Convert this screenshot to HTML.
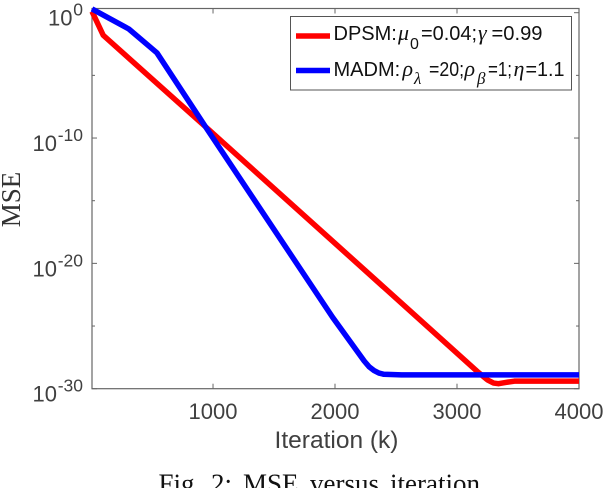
<!DOCTYPE html>
<html>
<head>
<meta charset="utf-8">
<title>MSE versus iteration</title>
<style>
html,body{margin:0;padding:0;background:#fff;}
body{width:604px;height:488px;overflow:hidden;}
svg{display:block;}
text{font-family:"Liberation Sans",sans-serif;}
.serif{font-family:"Liberation Serif",serif;}
.tick{fill:#404040;font-size:22px;}
.exp{fill:#404040;font-size:17.5px;}
.leg{fill:#111;font-size:20px;}
.legi{fill:#111;font-size:22px;font-family:"Liberation Serif",serif;font-style:italic;}
.legs{fill:#111;font-size:16px;}
.legsi{fill:#111;font-size:17px;font-family:"Liberation Serif",serif;font-style:italic;}
.cap{fill:#111;font-size:27px;font-family:"Liberation Serif",serif;}
</style>
</head>
<body>
<svg id="chart" xmlns="http://www.w3.org/2000/svg" width="604" height="488" viewBox="0 0 604 488">
  <rect x="0" y="0" width="604" height="488" fill="#fff"/>
  <g id="axes"></g>
  <g id="series"></g>
  <g>
    <rect x="290.5" y="16.5" width="281" height="73.5" fill="#fff" stroke="#555" stroke-width="1"/>
    <line x1="296" y1="36" x2="330" y2="36" stroke="#ff0000" stroke-width="5.5"/>
    <line x1="296" y1="70.5" x2="330" y2="70.5" stroke="#0000ff" stroke-width="5.5"/>
    <g>
      <text class="leg" x="333.5" y="40">DPSM:</text>
      <text class="legi" x="398" y="40">μ</text>
      <text class="legs" x="410" y="49">0</text>
      <text class="leg" x="421" y="40" textLength="56" lengthAdjust="spacingAndGlyphs">=0.04;</text>
      <text class="legi" x="478" y="40">γ</text>
      <text class="leg" x="491.5" y="40" textLength="51" lengthAdjust="spacingAndGlyphs">=0.99</text>
    </g>
    <g>
      <text class="leg" x="333.5" y="76">MADM:</text>
      <text class="legi" x="402.5" y="76">ρ</text>
      <text class="legsi" x="414" y="84">λ</text>
      <text class="leg" x="429" y="76" textLength="35" lengthAdjust="spacingAndGlyphs">=20;</text>
      <text class="legi" x="464.5" y="76">ρ</text>
      <text class="legsi" x="477" y="84">β</text>
      <text class="leg" x="488" y="76" textLength="24" lengthAdjust="spacingAndGlyphs">=1;</text>
      <text class="legi" x="513.5" y="76">η</text>
      <text class="leg" x="525.5" y="76" textLength="39" lengthAdjust="spacingAndGlyphs">=1.1</text>
    </g>
  </g>
  <text x="336.5" y="448" text-anchor="middle" font-size="24.5" fill="#404040">Iteration (k)</text>
  <text class="serif" transform="translate(20,199.5) rotate(-90)" text-anchor="middle" font-size="27" fill="#333">MSE</text>
  <g>
    <text class="cap" x="158.5" y="492.5">Fig.</text>
    <text class="cap" x="211" y="492.5">2:</text>
    <text class="cap" x="243" y="492.5">MSE</text>
    <text class="cap" x="310" y="492.5">versus</text>
    <text class="cap" x="390" y="492.5">iteration</text>
  </g>
</svg>
<script>
const xTickValues = [1000, 2000, 3000, 4000];
const yMajorExponents = [0, -10, -20, -30];
const yMinorExponents = [-5, -15, -25];
const dpsmIterations = [1, 100, 950, 2000, 3175, 3250, 3300, 3340, 3400, 3470, 4000];
const dpsmExponents = [0.1, -1.8, -9.2, -18.4, -28.7, -29.3, -29.55, -29.6, -29.5, -29.4, -29.4];
const madmIterations = [1, 310, 540, 945, 1980, 2240, 2280, 2320, 2360, 2400, 2545, 4000];
const madmExponents = [0.3, -1.3, -3.2, -9.2, -24.3, -27.8, -28.25, -28.55, -28.75, -28.85, -28.9, -28.9];

const NS = 'http://www.w3.org/2000/svg';
const plot = { left: 92, right: 579, top: 8.5, bottom: 388.7 };
const xDomain = [8, 4000];
const yDomain = [0.335, -30];

function xScale(k) {
  return plot.left + (k - xDomain[0]) / (xDomain[1] - xDomain[0]) * (plot.right - plot.left);
}
function yScale(e) {
  return plot.top + (e - yDomain[0]) / (yDomain[1] - yDomain[0]) * (plot.bottom - plot.top);
}
function make(tag, attrs, parent) {
  const el = document.createElementNS(NS, tag);
  Object.keys(attrs).forEach(function (k) { el.setAttribute(k, attrs[k]); });
  parent.appendChild(el);
  return el;
}

const axes = document.getElementById('axes');
const seriesGroup = document.getElementById('series');
const axisColor = '#666';

const frame = make('rect', { x: plot.left, y: plot.top, width: plot.right - plot.left, height: plot.bottom - plot.top, fill: 'none', stroke: axisColor, 'stroke-width': 1.2 }, axes);



xTickValues.forEach(function (v) {
  const x = xScale(v);
  const bottomTick = make('line', { x1: x, x2: x, y1: plot.bottom, y2: plot.bottom - 5, stroke: axisColor, 'stroke-width': 1 }, axes);
  
  
  const topTick = make('line', { x1: x, x2: x, y1: plot.top, y2: plot.top + 5, stroke: axisColor, 'stroke-width': 1 }, axes);
  
  
  const label = make('text', { x: x, y: 419, 'text-anchor': 'middle', class: 'tick' }, axes);
  
  
  label.textContent = String(v);
});

yMajorExponents.forEach(function (e) {
  const y = yScale(e);
  const leftTick = make('line', { x1: plot.left, x2: plot.left + 5, y1: y, y2: y, stroke: axisColor, 'stroke-width': 1 }, axes);
  
  
  const rightTick = make('line', { x1: plot.right, x2: plot.right - 5, y1: y, y2: y, stroke: axisColor, 'stroke-width': 1 }, axes);
  
  
  const expText = String(e);
  const expWidth = expText.length === 1 ? 10 : 25.5;
  const expLabel = make('text', { x: 83, y: y + 3, 'text-anchor': 'end', class: 'exp' }, axes);
  
  
  expLabel.textContent = expText;
  const baseLabel = make('text', { x: 83 - expWidth - 0.5, y: y + 13, 'text-anchor': 'end', class: 'tick' }, axes);
  
  
  baseLabel.textContent = '10';
});

yMinorExponents.forEach(function (e) {
  const y = yScale(e);
  const leftMinor = make('line', { x1: plot.left, x2: plot.left + 3, y1: y, y2: y, stroke: axisColor, 'stroke-width': 1 }, axes);
  
  
  const rightMinor = make('line', { x1: plot.right, x2: plot.right - 3, y1: y, y2: y, stroke: axisColor, 'stroke-width': 1 }, axes);
  
  
});

function linePath(xs, ys) {
  return xs.map(function (k, i) {
    const px = i === 0 ? plot.left : xScale(k);
    return (i === 0 ? 'M' : 'L') + px.toFixed(2) + ' ' + yScale(ys[i]).toFixed(2);
  }).join(' ');
}

const dpsmLine = make('path', { d: linePath(dpsmIterations, dpsmExponents), fill: 'none', stroke: '#ff0000', 'stroke-width': 5.5, 'stroke-linejoin': 'round' }, seriesGroup);



const madmLine = make('path', { d: linePath(madmIterations, madmExponents), fill: 'none', stroke: '#0000ff', 'stroke-width': 5.5, 'stroke-linejoin': 'round' }, seriesGroup);


</script>
</body>
</html>
